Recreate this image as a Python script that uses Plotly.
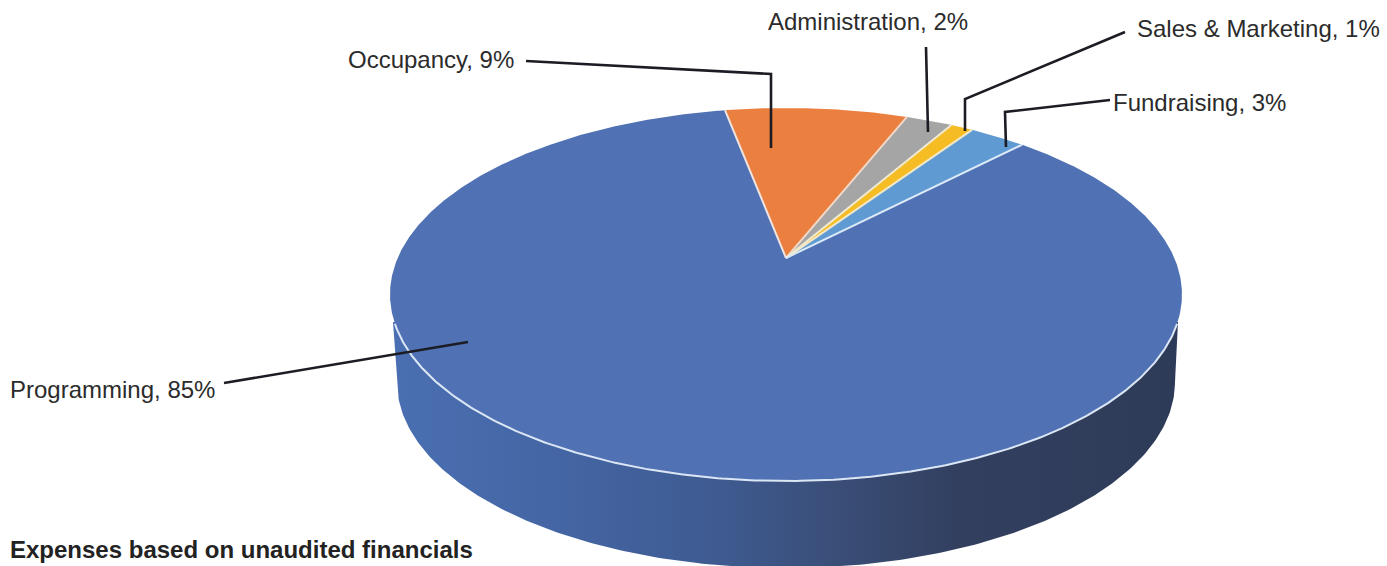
import numpy as np
import plotly.graph_objects as go

# ---- data ----
categories = ["Occupancy", "Administration", "Sales & Marketing", "Fundraising", "Programming"]
label_percent = [9, 2, 1, 3, 85]
slice_values = [9.0, 2.3, 1.1, 2.8, 84.8]
slice_colors = ["#EA7F3F", "#A5A5A5", "#F6BC24", "#5F9AD2", "#5072B4"]
footnote = "Expenses based on unaudited financials"

# ---- geometry of the tilted pie (axis units are pixels) ----
CX, CY, RX, RY = 786.0, 294.5, 396.0, 186.5      # top ellipse
BCY, BRX, BRY = 382.0, 389.0, 186.0              # bottom ellipse of the wall
APEX_UP = 36.5                                   # pie centre sits above ellipse centre
START_DEG = -10.8
K = 2 * APEX_UP / (2 * RY)
A = RX * np.sqrt(1 - K ** 2)


def project(deg):
    t = np.radians(deg)
    u, v = np.sin(t), np.cos(t)
    w = 1 + K * v
    return CX + A * u / w, CY - (RY * v + APEX_UP) / w


apex = (CX, CY - APEX_UP)

fig = go.Figure()

# wall
th = np.linspace(np.pi, 0, 240)
wall_x = np.concatenate([[393], CX + BRX * np.cos(th), [1178]])
wall_y = np.concatenate([[322], BCY + BRY * np.sin(th), [322]])
fig.add_trace(go.Scatter(
    x=wall_x, y=wall_y, mode="lines", line=dict(width=0), fill="toself",
    fillgradient=dict(type="horizontal", colorscale=[
        [0.0, "#4A6FB2"], [0.22, "#4465A3"], [0.42, "#3E5A90"],
        [0.56, "#3A4E78"], [0.72, "#323F5F"], [1.0, "#2E3B58"]]),
    hoverinfo="skip", showlegend=False))

# slices
edges = START_DEG + np.concatenate([[0], np.cumsum(slice_values)]) * 3.6
for name, pct, c, a0, a1 in zip(categories, label_percent, slice_colors, edges[:-1], edges[1:]):
    ang = np.linspace(a0, a1, max(8, int((a1 - a0) * 3)))
    px, py = project(ang)
    fig.add_trace(go.Scatter(
        x=np.concatenate([[apex[0]], px, [apex[0]]]),
        y=np.concatenate([[apex[1]], py, [apex[1]]]),
        mode="lines", line=dict(width=0), fill="toself", fillcolor=c,
        name=f"{name}, {pct}%", hoverinfo="name", showlegend=False))

# separator lines
for a, c in zip(edges[:-1], ["#F0E4E0", "#F1D9C8", "#F0EAD0", "#F2E8C8", "#DCEAF8"]):
    ex, ey = project(a)
    fig.add_trace(go.Scatter(x=[apex[0], ex], y=[apex[1], ey], mode="lines",
                             line=dict(color=c, width=2), hoverinfo="skip", showlegend=False))

# white rim along the front edge
rim = np.linspace(0, np.pi, 300)
rim = rim[CY + RY * np.sin(rim) >= 322]
fig.add_trace(go.Scatter(x=CX + RX * np.cos(rim), y=CY + RY * np.sin(rim), mode="lines",
                         line=dict(color="#DCE7F5", width=2), hoverinfo="skip", showlegend=False))

# leader lines
leaders = [
    "M 526 61 L 771 74 L 771 148",
    "M 926 47 L 928 132",
    "M 1125 32 L 965 99 L 965 131",
    "M 1110 100 L 1005 112 L 1006 147",
    "M 224 383 L 468 342",
]
shapes = [dict(type="path", path=p, xref="x", yref="y",
               line=dict(color="#1C1C24", width=2.6)) for p in leaders]

# labels
label_pos = {
    "Occupancy": (346, 59),
    "Administration": (766, 21),
    "Sales & Marketing": (1135, 28),
    "Fundraising": (1111, 102),
    "Programming": (8, 389),
}
annotations = []
for name, pct in zip(categories, label_percent):
    x, y = label_pos[name]
    annotations.append(dict(x=x, y=y, xref="x", yref="y", text=f"{name}, {pct}%",
                            showarrow=False, xanchor="left", yanchor="middle",
                            font=dict(family="Liberation Sans", size=24, color="#2B2B2B")))
annotations.append(dict(x=8, y=549, xref="x", yref="y", text=f"<b>{footnote}</b>",
                        showarrow=False, xanchor="left", yanchor="middle",
                        font=dict(family="Liberation Sans", size=24, color="#222222")))

fig.update_layout(
    width=1387, height=566, margin=dict(l=0, r=0, t=0, b=0),
    paper_bgcolor="white", plot_bgcolor="white", shapes=shapes, annotations=annotations,
    xaxis=dict(range=[0, 1387], visible=False, fixedrange=True),
    yaxis=dict(range=[566, 0], visible=False, fixedrange=True),
)
fig.write_html("out.html", config={"displayModeBar": False},
               post_script="document.body.style.margin='0';document.body.style.overflow='hidden';")
